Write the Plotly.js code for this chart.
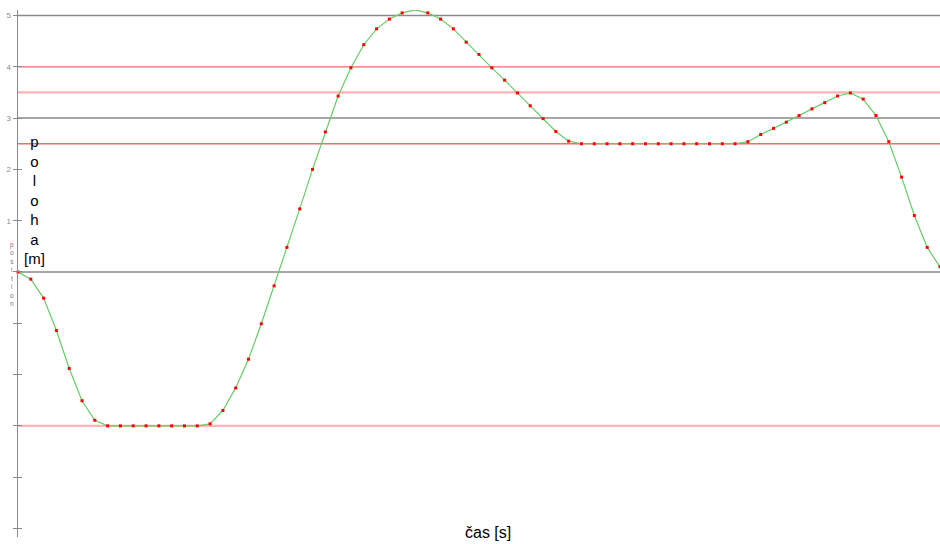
<!DOCTYPE html>
<html>
<head>
<meta charset="utf-8">
<script src="https://cdn.plot.ly/plotly-3.0.1.min.js"></script>
<style>html,body{margin:0;padding:0;background:#fff;}#chart{width:940px;height:544px;}</style>
</head>
<body>
<div id="chart"></div>
<script>
// sampled time step (s)
const dt = 0.1;
const positions = [
  0, -0.14, -0.51, -1.14, -1.88, -2.51, -2.89,
  -3, -3, -3, -3, -3, -3, -3, -3,
  -2.96, -2.70, -2.26, -1.70, -1.01, -0.27, 0.48, 1.23, 2.00, 2.73, 3.43, 3.98,
  4.43, 4.74, 4.93, 5.05, 5.11, 5.05, 4.93, 4.74, 4.48, 4.24, 3.98, 3.74, 3.49,
  3.24, 2.99, 2.74, 2.55,
  2.5, 2.5, 2.5, 2.5, 2.5, 2.5, 2.5, 2.5, 2.5, 2.5, 2.5, 2.5, 2.5,
  2.54, 2.68, 2.80, 2.92, 3.05, 3.18, 3.30, 3.43, 3.49, 3.37, 3.05, 2.54,
  1.85, 1.10, 0.48, 0.10
];
const times = positions.map((_, i) => +(i * dt).toFixed(2));
const grayLevels = [5, 3, 0];
const redLevels = [4, 2.5];
const pinkLevels = [3.5, -3];
const yTickVals = [-5, -4, -3, -2, -1, 0, 1, 2, 3, 4, 5];
const yTickText = ['', '', '', '', '', '', '1', '2', '3', '4', '5'];

const xMax = 7.2;
const shapes = [];
grayLevels.forEach(v => shapes.push({type:'line', xref:'paper', x0:0, x1:1, yref:'y', y0:v, y1:v, layer:'below', line:{color:'#8a8a8a', width:1.5}}));
redLevels.forEach(v => shapes.push({type:'line', xref:'paper', x0:0, x1:1, yref:'y', y0:v, y1:v, layer:'below', line:{color:'#f26a6a', width:1.3}}));
pinkLevels.forEach(v => shapes.push({type:'line', xref:'paper', x0:0, x1:1, yref:'y', y0:v, y1:v, layer:'below', line:{color:'#ffb4b4', width:2.2}}));

const traces = [
  {x: times, y: positions, type:'scatter', mode:'lines', line:{color:'#66cc66', width:1.2}, hoverinfo:'skip', cliponaxis:false},
  {x: times, y: positions, type:'scatter', mode:'markers', marker:{color:'#ff0000', size:3, symbol:'square'}, cliponaxis:false},
  {x: [0], y: [0], yaxis:'y2', type:'scatter', mode:'markers', marker:{opacity:0}, hoverinfo:'skip'}
];

const yr = [-5.166, 5.107];
const layout = {
  width: 940, height: 544,
  margin: {l: 18, r: 0, t: 10, b: 7},
  paper_bgcolor: '#fff', plot_bgcolor: '#fff',
  showlegend: false,
  font: {family: 'Liberation Sans, Arial, sans-serif'},
  xaxis: {range: [0, xMax], visible: false, showgrid: false, zeroline: false},
  yaxis: {range: yr, showgrid: false, zeroline: false, showline: true, linecolor: '#8a8a8a', linewidth: 1.5,
          tickmode: 'array', tickvals: yTickVals, ticktext: yTickText, ticks: 'outside', ticklen: 4,
          tickcolor: '#8a8a8a', tickwidth: 1, tickfont: {size: 8, color: '#8a8a8a'}},
  yaxis2: {range: yr, overlaying: 'y', side: 'left', showgrid: false, zeroline: false, showline: false,
           tickmode: 'array', tickvals: yTickVals, ticks: 'inside', ticklen: 4, tickcolor: '#8a8a8a', tickwidth: 1,
           showticklabels: false},
  shapes: shapes,
  annotations: [
    {text: 'čas [s]', xref: 'paper', yref: 'paper', x: 0.51, y: 0.008, xanchor: 'center', yanchor: 'middle', showarrow: false,
     font: {size: 16, color: '#000'}},
    {text: 'p<br>o<br>l<br>o<br>h<br>a<br>[m]', xref: 'paper', yref: 'paper', x: 0.0184, y: 0.639, xanchor: 'center', yanchor: 'middle',
     showarrow: false, font: {size: 15, color: '#000'}},
    {text: 'p<br>o<br>s<br>i<br>t<br>i<br>o<br>n', xref: 'paper', yref: 'paper', x: -0.0065, y: 0.5, xanchor: 'center', yanchor: 'middle',
     showarrow: false, font: {size: 6.5, color: '#777'}}
  ]
};
Plotly.newPlot('chart', traces, layout, {displayModeBar: false, staticPlot: true});
</script>
</body>
</html>
